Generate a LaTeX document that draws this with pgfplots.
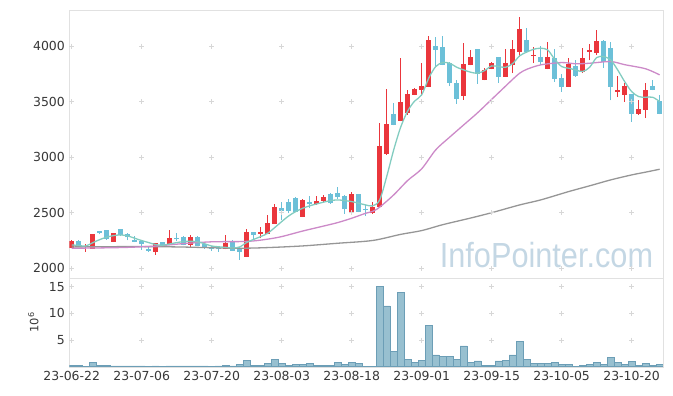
\documentclass[border=0pt]{standalone}
\usepackage{fontspec}
\setmainfont{DejaVu Sans}
\newfontfamily\wmfont{Liberation Sans}
\usepackage{pgfplots}
\pgfplotsset{compat=1.18}
\usepackage{pgfplotstable}

\definecolor{upred}{RGB}{234,54,60}
\definecolor{dnblue}{RGB}{108,192,216}
\definecolor{maA}{RGB}{130,204,192}
\definecolor{maB}{RGB}{204,138,200}
\definecolor{maC}{RGB}{150,150,150}
\definecolor{volfill}{RGB}{152,192,208}
\definecolor{voledge}{RGB}{108,158,182}
\definecolor{gridc}{RGB}{215,215,215}
\definecolor{framec}{RGB}{225,225,225}
\definecolor{wm}{RGB}{196,215,228}
\definecolor{tickc}{RGB}{55,55,55}

\pgfplotstableread{
i o h l c
0 2186 2252 2180 2246
2 2195 2219 2150 2204
3 2177 2310 2172 2306
6 2240 2318 2235 2315
12 2150 2228 2123 2225
14 2216 2345 2212 2270
17 2213 2300 2195 2285
22 2174 2297 2170 2231
25 2105 2351 2100 2330
27 2312 2375 2270 2330
28 2309 2480 2305 2411
29 2402 2579 2398 2552
33 2465 2620 2460 2615
35 2579 2650 2570 2606
36 2609 2660 2594 2639
40 2495 2690 2483 2669
43 2495 2600 2490 2549
44 2549 3311 2545 3101
45 3029 3611 3020 3299
47 3329 3890 3325 3497
48 3401 3605 3380 3569
49 3563 3620 3558 3614
50 3605 3851 3560 3641
51 3635 4091 3630 4055
56 3551 4025 3515 3839
57 3830 3960 3825 3899
59 3695 3800 3690 3785
60 3794 3855 3790 3851
62 3725 3970 3720 3851
63 3830 4055 3755 3971
64 3950 4265 3905 4153
66 3908 3990 3845 3920
68 3797 4040 3790 3902
71 3635 3890 3630 3839
73 3770 3980 3755 3890
74 3950 4020 3870 3965
75 3941 4145 3920 4046
78 3590 3730 3540 3605
79 3560 3665 3500 3641
81 3389 3515 3380 3434
82 3425 3665 3350 3605
}\updata

\pgfplotstableread{
i o h l c
1 2246 2250 2189 2207
4 2336 2338 2306 2321
5 2345 2348 2255 2264
7 2351 2354 2290 2297
8 2306 2315 2250 2279
9 2255 2290 2236 2240
10 2246 2250 2165 2216
11 2177 2195 2145 2159
13 2237 2240 2190 2195
15 2270 2321 2249 2261
16 2285 2288 2205 2210
18 2285 2288 2200 2204
19 2219 2222 2176 2180
20 2185 2200 2155 2173
21 2178 2195 2150 2170
23 2246 2250 2155 2159
24 2186 2190 2075 2150
26 2324 2328 2255 2303
30 2540 2600 2435 2519
31 2600 2620 2495 2519
32 2633 2637 2505 2510
34 2597 2650 2540 2579
37 2669 2681 2580 2585
38 2675 2729 2625 2639
39 2651 2655 2489 2531
41 2669 2672 2503 2507
42 2536 2570 2470 2528
46 3389 3485 3285 3290
52 4001 4080 3810 3965
53 3995 4091 3825 3830
54 3845 3860 3640 3671
55 3665 3690 3480 3527
58 3971 3975 3660 3749
61 3899 3903 3670 3725
65 4055 4160 3945 3950
67 3902 4000 3830 3860
69 3890 3970 3680 3707
70 3710 3745 3590 3635
72 3821 3875 3725 3734
76 4046 4050 3800 3860
77 3986 4040 3510 3635
80 3569 3572 3320 3389
83 3641 3695 3600 3605
84 3509 3560 3385 3389
}\dndata

\begin{document}
\begin{tikzpicture}
\pgfplotsset{
  every tick label/.append style={font=\fontsize{12.5}{14}\selectfont, text=tickc},
  /pgf/number format/assume math mode=true,
  /pgf/number format/1000 sep={},
}
% ---------------- price panel
\begin{axis}[
  name=price, at={(0,0)}, anchor=north west,
  scale only axis, width=593.5bp, height=267.7bp,
  xmin=-0.35, xmax=84.45, ymin=1915, ymax=4324,
  axis line style={framec}, major tick length=0pt,
  xtick=\empty, ytick={2000,2500,3000,3500,4000},
  yticklabel style={xshift=-1bp},
  clip=true,
]
\node[font=\wmfont\fontsize{35}{35}\selectfont, text=wm, xscale=0.88, anchor=base]
  at (rel axis cs:0.804,0.039) {InfoPointer.com};
\addplot[only marks, mark=+, mark size=2.5bp, gridc, line width=0.6bp, forget plot] coordinates {
(0,2000)(10,2000)(20,2000)(30,2000)(40,2000)(50,2000)(60,2000)(70,2000)(80,2000)
(0,2500)(10,2500)(20,2500)(30,2500)(40,2500)(50,2500)(60,2500)(70,2500)(80,2500)
(0,3000)(10,3000)(20,3000)(30,3000)(40,3000)(50,3000)(60,3000)(70,3000)(80,3000)
(0,3500)(10,3500)(20,3500)(30,3500)(40,3500)(50,3500)(60,3500)(70,3500)(80,3500)
(0,4000)(10,4000)(20,4000)(30,4000)(40,4000)(50,4000)(60,4000)(70,4000)(80,4000)};
% wicks
\addplot[forget plot, mark=none, draw=none, error bars/.cd, y dir=plus, y explicit,
  error mark=none, error bar style={draw=upred, line width=1bp}]
  table[x=i, y=l, y error plus expr={\thisrow{h}-\thisrow{l}}] {\updata};
\addplot[forget plot, mark=none, draw=none, error bars/.cd, y dir=plus, y explicit,
  error mark=none, error bar style={draw=dnblue, line width=1bp}]
  table[x=i, y=l, y error plus expr={\thisrow{h}-\thisrow{l}}] {\dndata};
% bodies
\addplot[forget plot, mark=none, draw=none, error bars/.cd, y dir=plus, y explicit,
  error mark=none, error bar style={draw=upred, line width=5bp}]
  table[x=i, y=o, y error plus expr={\thisrow{c}-\thisrow{o}}] {\updata};
\addplot[forget plot, mark=none, draw=none, error bars/.cd, y dir=plus, y explicit,
  error mark=none, error bar style={draw=dnblue, line width=5bp}]
  table[x=i, y=c, y error plus expr={\thisrow{o}-\thisrow{c}}] {\dndata};
% moving averages
\addplot[maC, line width=1.3bp, smooth, mark=none] coordinates {
(0,2192)(5,2194)(10,2195)(15,2192)(20,2185)(24,2180)(28,2186)(33,2201)(38,2225)
(43,2250)(47,2305)(50,2339)(53,2392)(57,2452)(60,2500)(64,2570)(67,2615)(71,2690)
(74,2742)(77,2795)(80,2840)(82,2865)(84,2891)};
\addplot[maB, line width=1.3bp, smooth, mark=none] coordinates {
(0,2180)(4,2183)(8,2188)(12,2200)(16,2222)(20,2238)(24,2240)(26,2246)(28,2262)
(30,2285)(33,2335)(36,2380)(38,2411)(40,2450)(42,2495)(43,2512)(44,2550)(46,2660)
(48,2790)(50,2895)(52,3065)(54,3180)(56,3290)(58,3400)(60,3520)(62,3640)(63,3700)
(64,3755)(65,3790)(67,3830)(70,3851)(72,3840)(74,3845)(77,3860)(79,3832)(82,3795)(84,3740)};
\addplot[maA, line width=1.3bp, smooth, mark=none] coordinates {
(0,2210)(1,2205)(2,2200)(3,2230)(4,2258)(5,2280)(6,2294)(7,2300)(8,2291)(9,2270)
(10,2249)(11,2231)(12,2213)(13,2207)(14,2219)(15,2231)(16,2240)(17,2243)(18,2238)
(19,2220)(20,2200)(21,2193)(22,2188)(23,2182)(24,2192)(25,2232)(26,2260)(27,2285)
(28,2315)(29,2366)(30,2420)(31,2471)(32,2510)(33,2540)(34,2562)(35,2579)(36,2595)
(37,2609)(38,2615)(39,2609)(40,2600)(41,2585)(42,2570)(43,2561)(44,2615)(45,2825)
(46,3065)(47,3270)(48,3415)(49,3505)(50,3560)(51,3710)(52,3815)(53,3851)(54,3845)
(55,3809)(56,3785)(57,3764)(58,3755)(59,3779)(60,3821)(61,3815)(62,3809)(63,3842)
(64,3912)(65,3945)(66,3971)(67,3980)(68,3965)(69,3881)(70,3815)(71,3800)(72,3785)
(73,3770)(74,3809)(75,3896)(76,3905)(77,3875)(78,3785)(79,3680)(80,3590)(81,3545)
(82,3539)(83,3539)(84,3500)};
\end{axis}
% ---------------- volume panel
\begin{axis}[
  name=vol, at={(0,-267.7bp)}, anchor=north west,
  scale only axis, width=593.5bp, height=89bp,
  xmin=-0.35, xmax=84.45, ymin=0, ymax=16.7,
  axis line style={framec}, major tick length=0pt,
  ytick={5,10,15},
  xtick={0,10,20,30,40,50,60,70,80},
  xticklabels={23-06-22,23-07-06,23-07-20,23-08-03,23-08-18,23-09-01,23-09-15,23-10-05,23-10-20},
  yticklabel style={xshift=-1bp},
  xticklabel style={yshift=-1bp},
]
\addplot[only marks, mark=+, mark size=2.5bp, gridc, line width=0.6bp, forget plot] coordinates {
(0,5)(10,5)(20,5)(30,5)(40,5)(50,5)(60,5)(70,5)(80,5)
(0,10)(10,10)(20,10)(30,10)(40,10)(50,10)(60,10)(70,10)(80,10)
(0,15)(10,15)(20,15)(30,15)(40,15)(50,15)(60,15)(70,15)(80,15)};
\addplot[ybar, bar width=1, fill=volfill, draw=voledge, line width=0.6bp] coordinates {
(0,0.2)(1,0.2)(2,0.1)(3,0.8)(4,0.3)(5,0.3)(6,0.15)(7,0.15)(8,0.15)(9,0.15)
(10,0.15)(11,0.05)(12,0.15)(13,0.05)(14,0.15)(15,0.15)(16,0.15)(17,0.15)(18,0.15)(19,0.15)
(20,0.05)(21,0.15)(22,0.3)(23,0.15)(24,0.45)(25,1.2)(26,0.3)(27,0.3)(28,0.6)(29,1.4)
(30,0.6)(31,0.3)(32,0.45)(33,0.45)(34,0.6)(35,0.3)(36,0.3)(37,0.3)(38,0.8)(39,0.45)
(40,0.8)(41,0.6)(42,0.1)(43,0.1)(44,15.1)(45,11.4)(46,2.9)(47,14.0)(48,1.4)(49,0.8)
(50,1.2)(51,7.8)(52,2.2)(53,2.0)(54,2.0)(55,1.4)(56,3.9)(57,0.8)(58,1.1)(59,0.3)
(60,0.3)(61,1.1)(62,1.25)(63,2.2)(64,4.8)(65,1.4)(66,0.6)(67,0.6)(68,0.6)(69,0.8)
(70,0.45)(71,0.45)(72,0.1)(73,0.3)(74,0.45)(75,0.8)(76,0.5)(77,1.8)(78,0.8)(79,0.45)
(80,1.0)(81,0.3)(82,0.6)(83,0.3)(84,0.45)};
\end{axis}
\node[rotate=90, anchor=center, font=\fontsize{11.5}{13}\selectfont, text=tickc]
  at ([xshift=-36bp]vol.west) {10\textsuperscript{6}};
\pgfresetboundingbox
\path (-69.3bp,10bp) rectangle (603.7bp,-386bp);
\end{tikzpicture}
\end{document}
